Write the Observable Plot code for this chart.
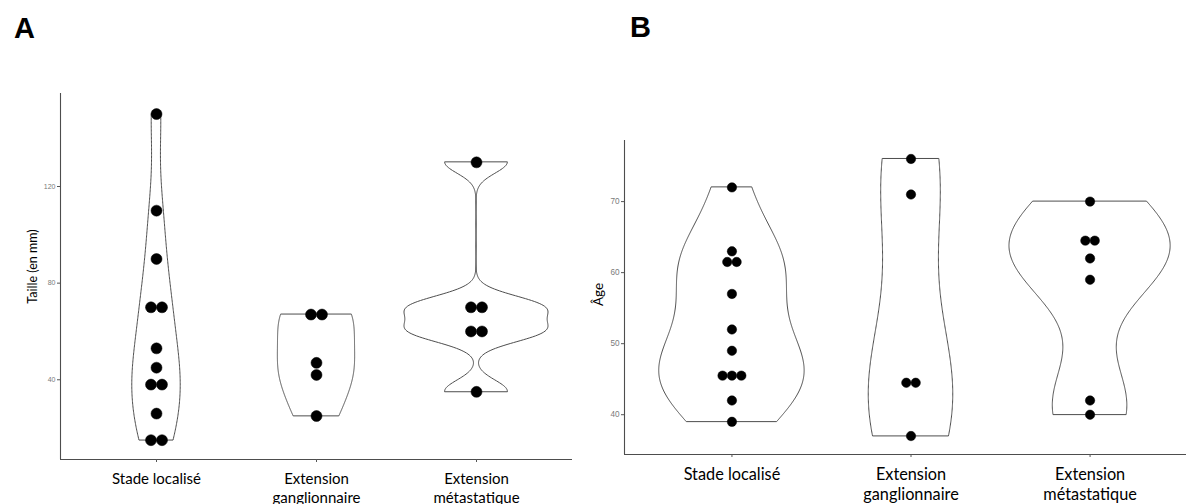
<!DOCTYPE html>
<html>
<head>
<meta charset="utf-8">
<script src="https://cdn.jsdelivr.net/npm/d3@7"></script>
<script src="https://cdn.jsdelivr.net/npm/@observablehq/plot@0.6"></script>
<style>
  body { margin: 0; width: 1186px; height: 504px; overflow: hidden; background: #fff; position: relative; }
  .tag { position: absolute; font-family: "Liberation Sans", Arial, sans-serif; font-weight: bold; font-size: 29px; line-height: 1; }
  #panelA { position: absolute; left: 0; top: 0; width: 590px; }
  #panelB { position: absolute; left: 590px; top: 0; width: 620px; }
</style>
</head>
<body>
<div class="tag" style="left:14px;top:14px">A</div>
<div class="tag" style="left:630px;top:13px">B</div>
<div id="panelA"></div>
<div id="panelB"></div>
<script>
// Disease stage groups (x axis)
const categories = ["Stade localisé", "Extension\nganglionnaire", "Extension\nmétastatique"];

// Panel A — tumour size (mm) per stage
const tailleLocalise = [150, 110, 90, 70, 70, 53, 45, 38, 38, 26, 15, 15];
const tailleGanglion = [67, 67, 47, 42, 25];
const tailleMetastase = [130, 70, 70, 60, 60, 35];
const tailleTicks = [40, 80, 120];

// Panel B — age (years) per stage
const ageLocalise = [72, 63, 61.5, 61.5, 57, 52, 49, 45.5, 45.5, 45.5, 42, 39];
const ageGanglion = [76, 71, 44.5, 44.5, 37];
const ageMetastase = [70, 64.5, 64.5, 62, 59, 42, 40];
const ageTicks = [40, 50, 60, 70];

// Silverman's rule of thumb (R's bw.nrd0)
function bwNrd0(values) {
  const v = values.slice().sort(d3.ascending);
  const sd = d3.deviation(v);
  const iqr = d3.quantile(v, 0.75) - d3.quantile(v, 0.25);
  const lo = Math.min(sd, iqr / 1.34) || sd || Math.abs(v[0]) || 1;
  return 0.9 * lo * Math.pow(v.length, -0.2);
}

// Gaussian kernel density, evaluated on the trimmed data range
function density(values, n = 240) {
  const bw = bwNrd0(values);
  const [lo, hi] = d3.extent(values);
  const k = 1 / (values.length * bw * Math.sqrt(2 * Math.PI));
  return d3.range(n + 1).map(i => {
    const y = lo + (hi - lo) * i / n;
    return {y, d: k * d3.sum(values, x => Math.exp(-0.5 * ((y - x) / bw) ** 2))};
  });
}

function violinPanel({groups, yDomain, yTicks, yLabel, width, height, margin, r, tickFont, labelFont, labelDx, labelDy, catFont, catLine}) {
  const xDomain = [0.4, 3.6];
  const pxPerX = (width - margin.left - margin.right) / (xDomain[1] - xDomain[0]);

  // Violin outlines, scaled so that the widest one spans 0.9 of a category step
  const dens = groups.map(values => density(values));
  const maxD = d3.max(dens.flat(), p => p.d);
  const violins = dens.flatMap((rows, i) =>
    rows.map(p => ({g: i + 1, y: p.y, half: 0.45 * p.d / maxD})));

  // Centred dot stacks: equal values sit side by side
  const dots = groups.flatMap((values, i) =>
    d3.groups(values, v => v).flatMap(([v, same]) =>
      same.map((_, j) => ({g: i + 1, v, off: (j - (same.length - 1) / 2) * 2 * r / pxPerX}))));

  return Plot.plot({
    width, height,
    marginLeft: margin.left, marginRight: margin.right,
    marginTop: margin.top, marginBottom: margin.bottom,
    style: {fontFamily: "Lato, sans-serif", background: "transparent", overflow: "visible", maxWidth: "none"},
    x: {domain: xDomain},
    y: {domain: yDomain},
    marks: [
      Plot.areaX(violins, {
        y: "y", x1: d => d.g - d.half, x2: d => d.g + d.half, z: "g",
        fill: "white", stroke: "#4d4d4d", strokeWidth: 1, curve: "linear"
      }),
      Plot.dot(dots, {x: d => d.g + d.off, y: "v", r, fill: "black", stroke: "black", strokeWidth: 0.5}),
      Plot.ruleX([xDomain[0]], {stroke: "#4d4d4d", strokeWidth: 1.1}),
      Plot.ruleY([yDomain[0]], {stroke: "#4d4d4d", strokeWidth: 1.1}),
      Plot.axisY(yTicks, {
        tickSize: 3, tickPadding: 2, fontSize: tickFont, label: null,
        fill: "#7a7a7a", stroke: "#555", fontFamily: "Liberation Sans, Arial, sans-serif"
      }),
      Plot.axisX([1, 2, 3], {
        tickSize: 3, tickPadding: 8, fontSize: catFont, label: null, lineHeight: catLine,
        tickFormat: i => categories[i - 1], fill: "black", stroke: "#555"
      }),
      Plot.text([yLabel], {
        frameAnchor: "left", textAnchor: "middle", lineAnchor: "middle", rotate: -90,
        dx: labelDx, dy: labelDy, fontSize: labelFont, fill: "black"
      })
    ]
  });
}

document.getElementById("panelA").append(violinPanel({
  groups: [tailleLocalise, tailleGanglion, tailleMetastase],
  yDomain: [7, 158.5], yTicks: tailleTicks, yLabel: "Taille (en mm)",
  width: 590, height: 504, margin: {left: 60, right: 18, top: 93, bottom: 45},
  r: 5.5, tickFont: 7, labelFont: 12.5, labelDx: -28, labelDy: -10, catFont: 15, catLine: 1.27
}));

document.getElementById("panelB").append(violinPanel({
  groups: [ageLocalise, ageGanglion, ageMetastase],
  yDomain: [34.4, 78.6], yTicks: ageTicks, yLabel: "Âge",
  width: 620, height: 504, margin: {left: 34, right: 13, top: 140, bottom: 50},
  r: 4.7, tickFont: 8.2, labelFont: 13.5, labelDx: -26, labelDy: -3, catFont: 16.3, catLine: 1.25
}));
</script>
</body>
</html>
